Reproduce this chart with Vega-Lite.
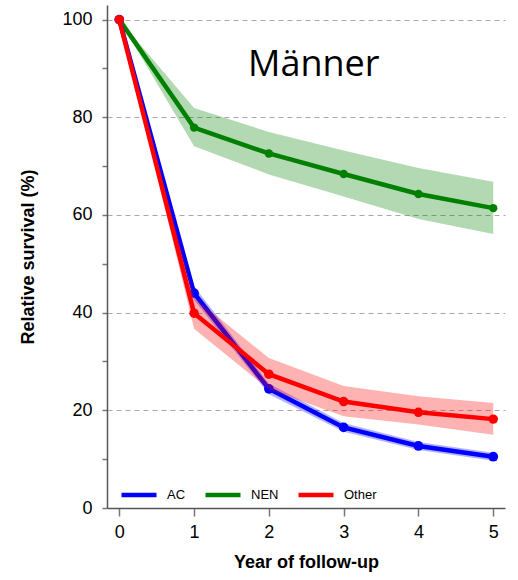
{
  "$schema": "https://vega.github.io/schema/vega-lite/v6.json",
  "width": 398,
  "height": 503,
  "autosize": "none",
  "padding": {"left": 107, "top": 5, "right": 13, "bottom": 72},
  "background": "white",
  "data": {
    "values": [
      {"group": "AC", "year": 0, "surv": 100, "lo": 100, "hi": 100},
      {"group": "AC", "year": 1, "surv": 44.0, "lo": 42.6, "hi": 45.4},
      {"group": "AC", "year": 2, "surv": 24.4, "lo": 23.3, "hi": 25.5},
      {"group": "AC", "year": 3, "surv": 16.5, "lo": 15.6, "hi": 17.4},
      {"group": "AC", "year": 4, "surv": 12.7, "lo": 11.9, "hi": 13.5},
      {"group": "AC", "year": 5, "surv": 10.5, "lo": 9.7, "hi": 11.3},
      {"group": "NEN", "year": 0, "surv": 100, "lo": 100, "hi": 100},
      {"group": "NEN", "year": 1, "surv": 77.9, "lo": 74.1, "hi": 81.9},
      {"group": "NEN", "year": 2, "surv": 72.6, "lo": 68.3, "hi": 77.0},
      {"group": "NEN", "year": 3, "surv": 68.4, "lo": 63.8, "hi": 73.2},
      {"group": "NEN", "year": 4, "surv": 64.3, "lo": 59.2, "hi": 69.6},
      {"group": "NEN", "year": 5, "surv": 61.4, "lo": 56.1, "hi": 66.8},
      {"group": "Other", "year": 0, "surv": 100, "lo": 100, "hi": 100},
      {"group": "Other", "year": 1, "surv": 39.9, "lo": 36.7, "hi": 43.1},
      {"group": "Other", "year": 2, "surv": 27.4, "lo": 24.3, "hi": 30.7},
      {"group": "Other", "year": 3, "surv": 21.8, "lo": 18.8, "hi": 25.0},
      {"group": "Other", "year": 4, "surv": 19.6, "lo": 17.1, "hi": 22.9},
      {"group": "Other", "year": 5, "surv": 18.2, "lo": 15.0, "hi": 21.5}
    ]
  },
  "encoding": {
    "x": {
      "field": "year",
      "type": "quantitative",
      "title": "Year of follow-up",
      "scale": {"domain": [-0.164, 5.157], "nice": false, "zero": false},
      "axis": {
        "values": [0, 1, 2, 3, 4, 5],
        "grid": false,
        "tickSize": 8,
        "labelPadding": 7,
        "titlePadding": 12
      }
    }
  },
  "layer": [
    {
      "transform": [{"filter": "datum.group === 'NEN'"}],
      "layer": [
        {
          "mark": {"type": "area", "color": "#008000", "opacity": 0.3},
          "encoding": {
            "y": {"field": "lo", "type": "quantitative", "title": "Relative survival (%)",
              "scale": {"domain": [0, 103], "nice": false},
              "axis": {
                "values": [0, 5, 10, 15, 20, 25, 30, 35, 40, 45, 50, 55, 60, 65, 70, 75, 80, 85, 90, 95, 100],
                "labelExpr": "datum.value % 20 === 0 ? datum.label : ''",
                "grid": true,
                "gridDash": [5, 4],
                "gridColor": "#a8a8a8",
                "gridOpacity": {"condition": {"test": "datum.value > 0 && datum.value % 20 === 0", "value": 1}, "value": 0},
                "tickSize": 5,
                "labelPadding": 10,
                "titlePadding": 24
              }
            },
            "y2": {"field": "hi"}
          }
        },
        {
          "mark": {"type": "line", "strokeWidth": 4.5},
          "encoding": {
            "y": {"field": "surv", "type": "quantitative", "title": "Relative survival (%)"},
            "color": {"field": "group", "type": "nominal",
              "scale": {"domain": ["AC", "NEN", "Other"], "range": ["#0000ff", "#008000", "#ff0000"]},
              "legend": {"title": null, "orient": "none", "legendX": 12, "legendY": 470, "direction": "horizontal",
                "symbolType": "stroke", "symbolSize": 1225, "symbolStrokeWidth": 4.5,
                "labelFontSize": 13, "labelOffset": 8, "columnPadding": 10}
            }
          }
        },
        {
          "mark": {"type": "point", "filled": true, "opacity": 1, "size": 70, "color": "#008000"},
          "encoding": {"y": {"field": "surv", "type": "quantitative", "title": "Relative survival (%)"}}
        }
      ]
    },
    {
      "transform": [{"filter": "datum.group === 'AC'"}],
      "layer": [
        {
          "mark": {"type": "area", "color": "#0000ff", "opacity": 0.3},
          "encoding": {
            "y": {"field": "lo", "type": "quantitative", "title": "Relative survival (%)"},
            "y2": {"field": "hi"}
          }
        },
        {
          "mark": {"type": "line", "strokeWidth": 4.5},
          "encoding": {
            "y": {"field": "surv", "type": "quantitative", "title": "Relative survival (%)"},
            "color": {"field": "group", "type": "nominal"}
          }
        },
        {
          "mark": {"type": "point", "filled": true, "opacity": 1, "size": 95, "color": "#0000ff"},
          "encoding": {"y": {"field": "surv", "type": "quantitative", "title": "Relative survival (%)"}}
        }
      ]
    },
    {
      "transform": [{"filter": "datum.group === 'Other'"}],
      "layer": [
        {
          "mark": {"type": "area", "color": "#ff0000", "opacity": 0.3},
          "encoding": {
            "y": {"field": "lo", "type": "quantitative", "title": "Relative survival (%)"},
            "y2": {"field": "hi"}
          }
        },
        {
          "mark": {"type": "line", "strokeWidth": 4.5},
          "encoding": {
            "y": {"field": "surv", "type": "quantitative", "title": "Relative survival (%)"},
            "color": {"field": "group", "type": "nominal"}
          }
        },
        {
          "mark": {"type": "point", "filled": true, "opacity": 1, "size": 90, "color": "#ff0000"},
          "encoding": {"y": {"field": "surv", "type": "quantitative", "title": "Relative survival (%)"}}
        }
      ]
    },
    {
      "data": {"values": [{"year": 2.6, "surv": 88.4, "label": "Männer"}]},
      "mark": {"type": "text", "font": "Open Sans", "fontSize": 36, "align": "center", "baseline": "alphabetic", "color": "black"},
      "encoding": {
        "y": {"field": "surv", "type": "quantitative", "title": "Relative survival (%)"},
        "text": {"field": "label"}
      }
    }
  ],
  "config": {
    "view": {"stroke": null},
    "font": "Liberation Sans",
    "axis": {
      "labelFont": "Liberation Sans",
      "labelFontSize": 18,
      "labelColor": "black",
      "titleFont": "Liberation Sans",
      "titleFontSize": 18,
      "titleFontWeight": "bold",
      "titleColor": "black",
      "domainColor": "#555555",
      "domainWidth": 1.5,
      "tickColor": "#777777",
      "tickWidth": 1.5
    },
    "legend": {"labelFont": "Liberation Sans", "labelColor": "black"}
  }
}
